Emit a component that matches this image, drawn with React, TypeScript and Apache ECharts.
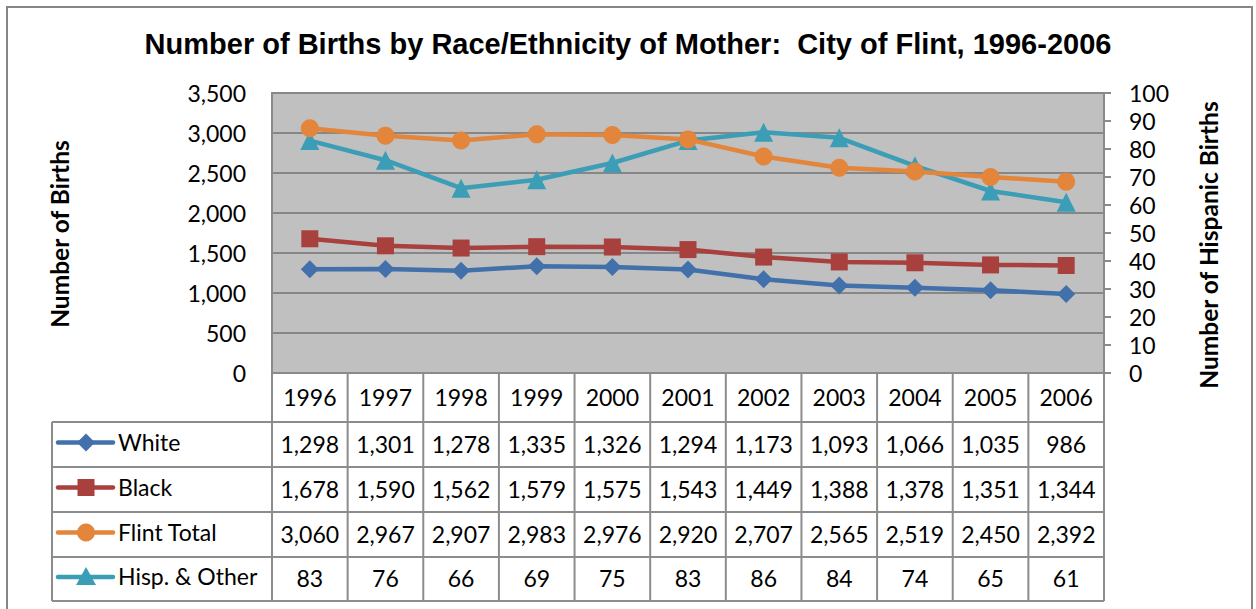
import React, { useEffect, useRef } from "react";
import * as echarts from "echarts";

const years = ["1996", "1997", "1998", "1999", "2000", "2001", "2002", "2003", "2004", "2005", "2006"];
const white = [1298, 1301, 1278, 1335, 1326, 1294, 1173, 1093, 1066, 1035, 986];
const black = [1678, 1590, 1562, 1579, 1575, 1543, 1449, 1388, 1378, 1351, 1344];
const flintTotal = [3060, 2967, 2907, 2983, 2976, 2920, 2707, 2565, 2519, 2450, 2392];
const hispOther = [83, 76, 66, 69, 75, 83, 86, 84, 74, 65, 61];

const leftMax = 3500;
const leftInterval = 500;
const rightMax = 100;
const rightInterval = 10;

const seriesNames = ["White", "Black", "Flint Total", "Hisp. & Other"];
const seriesColors = ["#4170aa", "#a8403e", "#e3853a", "#3b9db6"];

const TITLE = "Number of Births by Race/Ethnicity of Mother:  City of Flint, 1996-2006";
const LEFT_NAME = "Number of Births";
const RIGHT_NAME = "Number of Hispanic Births";

const LBL_FONT = "Lato, 'Open Sans', sans-serif";
const LBL_SIZE = 23;

export default function App() {
  const ref = useRef<HTMLDivElement>(null);

  useEffect(() => {
    if (!ref.current) return;
    const chart = echarts.init(ref.current, null, { renderer: "svg" });

    const gridLeft = 272;
    const gridTop = 93;
    const gridRight = 1104;
    const gridBottom = 373;

    const dataSets = [white, black, flintTotal, hispOther];
    const symbols = ["diamond", "rect", "circle", "triangle"];
    const symbolSizes = [18, 17, 18, 19];

    const option: any = {
      animation: false,
      backgroundColor: "#ffffff",
      title: {
        text: TITLE,
        left: "center",
        top: 24,
        textStyle: {
          fontFamily: "'Liberation Sans', Arial, sans-serif",
          fontWeight: "bold",
          fontSize: 29,
          color: "#000",
        },
      },
      grid: {
        left: gridLeft,
        top: gridTop,
        width: gridRight - gridLeft,
        height: gridBottom - gridTop,
        show: true,
        backgroundColor: "#c0c0c0",
        borderColor: "#8a8a8a",
        borderWidth: 2,
      },
      xAxis: {
        type: "category",
        data: years,
        boundaryGap: true,
        axisLine: { show: true, lineStyle: { color: "#8a8a8a", width: 2 } },
        axisTick: { show: false },
        axisLabel: {
          color: "#000",
          fontFamily: LBL_FONT,
          fontSize: LBL_SIZE,
          margin: 12,
          interval: 0,
        },
        splitLine: { show: false },
      },
      yAxis: [
        {
          type: "value",
          min: 0,
          max: leftMax,
          interval: leftInterval,
          axisLine: { show: true, lineStyle: { color: "#8a8a8a", width: 2 } },
          axisTick: { show: false },
          axisLabel: {
            color: "#000",
            fontFamily: LBL_FONT,
            fontSize: LBL_SIZE,
            margin: 26,
            formatter: (v: number) => v.toLocaleString("en-US"),
          },
          splitLine: { show: true, lineStyle: { color: "#878787", width: 2 } },
        },
        {
          type: "value",
          min: 0,
          max: rightMax,
          interval: rightInterval,
          position: "right",
          axisLine: { show: true, lineStyle: { color: "#8a8a8a", width: 2 } },
          axisTick: { show: true, length: 7, lineStyle: { color: "#8a8a8a", width: 2 } },
          axisLabel: {
            color: "#000",
            fontFamily: LBL_FONT,
            fontSize: LBL_SIZE,
            margin: 25,
          },
          splitLine: { show: false },
        },
      ],
      series: dataSets.map((d, i) => ({
        name: seriesNames[i],
        type: "line",
        data: d,
        yAxisIndex: i === 3 ? 1 : 0,
        symbol: symbols[i],
        symbolSize: symbolSizes[i],
        showAllSymbol: true,
        lineStyle: { color: seriesColors[i], width: 4.5 },
        itemStyle: { color: seriesColors[i] },
        z: 2 + (i === 3 ? 0 : i),
      })),
    };

    chart.setOption(option);

    // Build data table aligned with the x axis scale
    const centers = years.map((_, i) => chart.convertToPixel({ xAxisIndex: 0 }, i) as number);
    const step = centers.length > 1 ? centers[1] - centers[0] : 75;
    const boundaries = [centers[0] - step / 2, ...centers.map((c) => c + step / 2)];
    const tableLeft = 52;
    const rowLines = [422, 467, 512, 557, 601];
    const lineColor = "#8c8c8c";
    const els: any[] = [];

    // outer chart border
    els.push({
      type: "rect",
      shape: { x: 7, y: 7, width: 1245, height: 630 },
      style: { fill: "none", stroke: "#868686", lineWidth: 2 },
      silent: true,
    });

    // vertical column lines
    boundaries.forEach((bx) => {
      els.push({
        type: "line",
        shape: { x1: bx, y1: gridBottom, x2: bx, y2: rowLines[rowLines.length - 1] },
        style: { stroke: lineColor, lineWidth: 2 },
      });
    });
    // left border of legend column
    els.push({
      type: "line",
      shape: { x1: tableLeft, y1: rowLines[0], x2: tableLeft, y2: rowLines[rowLines.length - 1] },
      style: { stroke: lineColor, lineWidth: 2 },
    });
    // horizontal row lines
    rowLines.forEach((ry) => {
      els.push({
        type: "line",
        shape: { x1: tableLeft, y1: ry, x2: boundaries[boundaries.length - 1], y2: ry },
        style: { stroke: lineColor, lineWidth: 2 },
      });
    });

    // rows
    dataSets.forEach((d, r) => {
      const cy = (rowLines[r] + rowLines[r + 1]) / 2;
      const color = seriesColors[r];
      const ky = cy - 2;
      // legend key line
      els.push({
        type: "line",
        shape: { x1: 58, y1: ky, x2: 113, y2: ky },
        style: { stroke: color, lineWidth: 4.5, lineCap: "round" },
      });
      const mx = 86;
      if (r === 0) {
        els.push({
          type: "polygon",
          shape: { points: [[mx, ky - 9], [mx + 9, ky], [mx, ky + 9], [mx - 9, ky]] },
          style: { fill: color },
        });
      } else if (r === 1) {
        els.push({
          type: "rect",
          shape: { x: mx - 8.5, y: ky - 8.5, width: 17, height: 17 },
          style: { fill: color },
        });
      } else if (r === 2) {
        els.push({
          type: "circle",
          shape: { cx: mx, cy: ky, r: 9 },
          style: { fill: color },
        });
      } else {
        els.push({
          type: "polygon",
          shape: { points: [[mx, ky - 10], [mx + 10, ky + 8], [mx - 10, ky + 8]] },
          style: { fill: color },
        });
      }
      els.push({
        type: "text",
        x: 118,
        y: cy - 3,
        style: {
          text: seriesNames[r],
          fill: "#000",
          font: `${LBL_SIZE}px ${LBL_FONT}`,
          textAlign: "left",
          textVerticalAlign: "middle",
        },
      });
      d.forEach((v, i) => {
        els.push({
          type: "text",
          x: centers[i],
          y: cy - 1,
          style: {
            text: v.toLocaleString("en-US"),
            fill: "#000",
            font: `${LBL_SIZE}px ${LBL_FONT}`,
            textAlign: "center",
            textVerticalAlign: "middle",
          },
        });
      });
    });

    // axis names
    els.push({
      type: "text",
      x: 59,
      y: 234,
      rotation: Math.PI / 2,
      style: {
        text: LEFT_NAME,
        fill: "#000",
        font: `bold 24.5px ${LBL_FONT}`,
        textAlign: "center",
        textVerticalAlign: "middle",
      },
    });
    els.push({
      type: "text",
      x: 1208,
      y: 245,
      rotation: Math.PI / 2,
      style: {
        text: RIGHT_NAME,
        fill: "#000",
        font: `bold 24.5px ${LBL_FONT}`,
        textAlign: "center",
        textVerticalAlign: "middle",
      },
    });

    chart.setOption({ graphic: { elements: els } });

    return () => {
      chart.dispose();
    };
  }, []);

  return (
    <div
      ref={ref}
      style={{ position: "fixed", left: 0, top: 0, width: 1256, height: 609 }}
    />
  );
}
